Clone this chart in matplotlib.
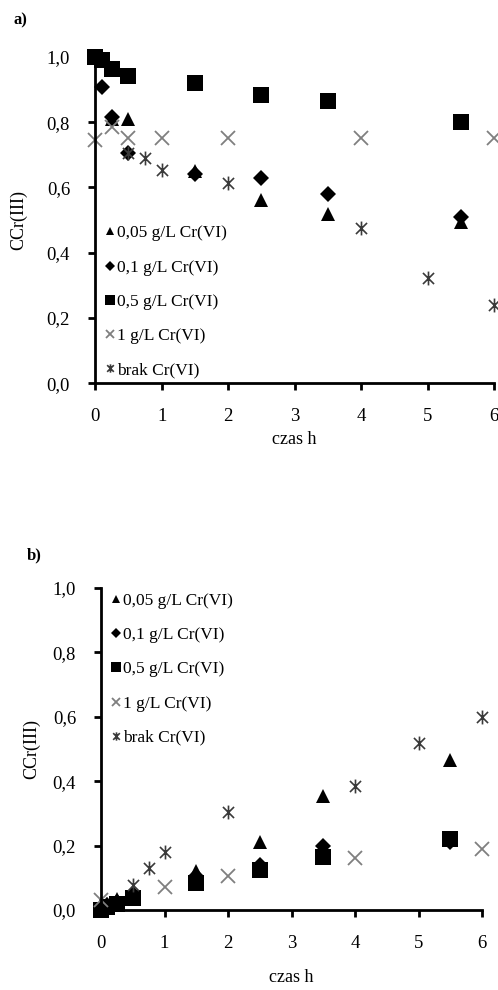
import matplotlib
matplotlib.use("Agg")
import matplotlib.pyplot as plt
from matplotlib.path import Path
from matplotlib.ticker import FuncFormatter

plt.rcParams['font.family'] = ['Liberation Serif', 'DejaVu Serif']

labels = ["0,05 g/L Cr(VI)", "0,1 g/L Cr(VI)", "0,5 g/L Cr(VI)", "1 g/L Cr(VI)", "brak Cr(VI)"]

# Panel a
a_t_005 = [0, 0.25, 0.5, 1.5, 2.5, 3.5, 5.5]
a_v_005 = [1.0, 0.81, 0.81, 0.65, 0.56, 0.52, 0.495]
a_t_01 = [0, 0.1, 0.25, 0.5, 1.5, 2.5, 3.5, 5.5]
a_v_01 = [1.0, 0.907, 0.815, 0.707, 0.64, 0.628, 0.58, 0.51]
a_t_05 = [0, 0.1, 0.25, 0.5, 1.5, 2.5, 3.5, 5.5]
a_v_05 = [1.0, 0.99, 0.963, 0.94, 0.92, 0.883, 0.865, 0.80]
a_t_1 = [0, 0.25, 0.5, 1, 2, 4, 6]
a_v_1 = [0.745, 0.785, 0.75, 0.75, 0.75, 0.75, 0.75]
a_t_brak = [0.5, 0.75, 1, 2, 4, 5, 6]
a_v_brak = [0.705, 0.69, 0.653, 0.613, 0.475, 0.322, 0.24]

# Panel b
b_t_005 = [0, 0.1, 0.25, 0.5, 1.5, 2.5, 3.5, 5.5]
b_v_005 = [0.0, 0.02, 0.035, 0.06, 0.12, 0.21, 0.355, 0.465]
b_t_01 = [0, 0.1, 0.25, 0.5, 1.5, 2.5, 3.5, 5.5]
b_v_01 = [0.0, 0.015, 0.025, 0.05, 0.105, 0.14, 0.20, 0.21]
b_t_05 = [0, 0.1, 0.25, 0.5, 1.5, 2.5, 3.5, 5.5]
b_v_05 = [0.0, 0.01, 0.02, 0.037, 0.085, 0.125, 0.165, 0.22]
b_t_1 = [0, 1, 2, 4, 6]
b_v_1 = [0.03, 0.07, 0.105, 0.16, 0.19]
b_t_brak = [0.5, 0.75, 1, 2, 4, 5, 6]
b_v_brak = [0.078, 0.13, 0.18, 0.305, 0.385, 0.52, 0.60]

xticks = [0, 1, 2, 3, 4, 5, 6]
yticks = [0.0, 0.2, 0.4, 0.6, 0.8, 1.0]

star = Path([(-1, -1), (1, 1), (-1, 1), (1, -1), (0, -1.25), (0, 1.25)],
            [Path.MOVETO, Path.LINETO, Path.MOVETO, Path.LINETO, Path.MOVETO, Path.LINETO])

styles = [
    dict(marker='^', color='black', ms=10, mew=0),
    dict(marker='D', color='black', ms=8.5, mew=0),
    dict(marker='s', color='black', ms=11.5, mew=0),
    dict(marker='x', color='#7f7f7f', ms=10, mew=1.3),
    dict(marker=star, color='#3a3a3a', ms=10, mew=1.2),
]

fig = plt.figure(figsize=(4.98, 9.9), dpi=100)

def setup(ax, series, legend_anchor, ylabelpad, xlabelpad):
    for (t, v), st, lab in zip(series, styles, labels):
        ax.plot(t, v, linestyle='none', marker=st['marker'], color=st['color'],
                markersize=st['ms'], markeredgewidth=st['mew'], label=lab, clip_on=False)
    ax.set_xlim(0, 6)
    ax.set_ylim(0, 1.0)
    ax.set_xticks(xticks)
    ax.set_yticks(yticks)
    ax.xaxis.set_major_formatter(FuncFormatter(lambda x, p: f"{x:.0f}"))
    ax.yaxis.set_major_formatter(FuncFormatter(lambda y, p: f"{y:.1f}".replace('.', ',')))
    for s in ['top', 'right']:
        ax.spines[s].set_visible(False)
    for s in ['left', 'bottom']:
        ax.spines[s].set_linewidth(2.0)
    ax.tick_params(direction='out', length=5, width=2, labelsize=13.5, pad=13)
    ax.set_xlabel("czas h", fontsize=13, labelpad=xlabelpad)
    ax.set_ylabel("CCr(III)", fontsize=13, labelpad=ylabelpad)
    ax.legend(loc='upper left', bbox_to_anchor=legend_anchor, frameon=False,
              fontsize=12.5, markerscale=0.6, handlelength=0.6, handletextpad=0.1,
              labelspacing=1.04, borderaxespad=0, borderpad=0)

ax1 = fig.add_axes([0.191, 0.613, 0.801, 0.3295])
setup(ax1, [(a_t_005, a_v_005), (a_t_01, a_v_01), (a_t_05, a_v_05),
            (a_t_1, a_v_1), (a_t_brak, a_v_brak)], (0.025, 0.484), 14, 4)

ax2 = fig.add_axes([0.203, 0.0808, 0.765, 0.3252])
setup(ax2, [(b_t_005, b_v_005), (b_t_01, b_v_01), (b_t_05, b_v_05),
            (b_t_1, b_v_1), (b_t_brak, b_v_brak)], (0.025, 0.985), 9, 12)

fig.text(13 / 498, 1 - 20 / 990, "a)", fontsize=12, fontweight='bold', va='center', ha='left')
fig.text(27 / 498, 1 - 555 / 990, "b)", fontsize=12, fontweight='bold', va='center', ha='left')

fig.savefig("out.png", dpi=100)
